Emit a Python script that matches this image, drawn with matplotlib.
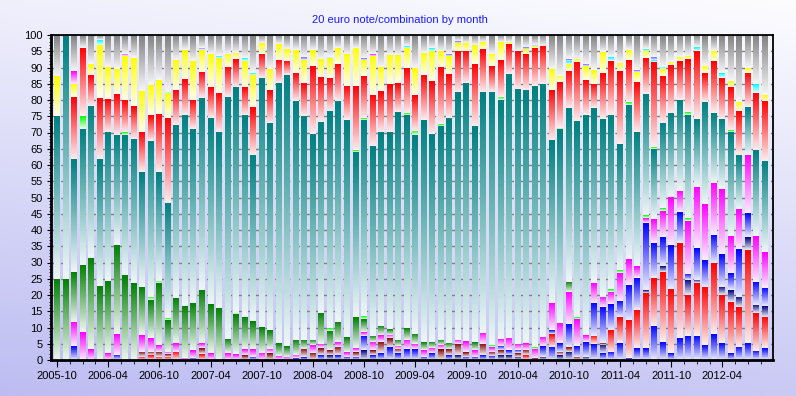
import numpy as np
import matplotlib
matplotlib.use("Agg")
import matplotlib.pyplot as plt
from matplotlib.colors import LinearSegmentedColormap, to_rgb

# one value per month, 2005-10 .. 2012-09 (percent of notes), stacked bottom -> top
tick_labels = ["2005-10", "2006-04", "2006-10", "2007-04", "2007-10", "2008-04", "2008-10",
               "2009-04", "2009-10", "2010-04", "2010-10", "2011-04", "2011-10", "2012-04"]

blue1 = [0, 0, 0, 0, 0, 0, 0, 0, 0, 0, 0, 0,
         0, 0, 0, 0, 0, 0, 0, 0, 0, 0, 0, 0,
         0, 0, 0, 0, 0, 0.8, 0, 1.5, 0, 1.5, 1, 1,
         0, 1.5, 2, 4, 2, 0, 0, 0, 0, 0, 1.5, 0,
         1, 1, 1.5, 1.3, 0, 0, 0, 0, 0, 0, 4.1, 0,
         0, 0, 0, 4.9, 2, 2.6, 5.1, 0.5, 3.6, 3.6, 10.6, 5.4,
         2.1, 6.7, 7.4, 7.4, 4.6, 8, 5.1, 2.1, 4.1, 5.1, 2.9, 3.6]
red1 = [0, 0, 0, 0, 0, 0, 0, 0, 0, 0, 1, 1.5,
        1, 1, 2.6, 0, 0, 1.8, 0, 0, 0, 0, 0, 0,
        0, 0, 0, 0, 0, 0, 0, 0, 0, 0, 0, 0,
        0, 0, 0, 0, 0, 0, 0, 0, 0, 0, 0, 0,
        0, 0, 0, 0, 0, 0, 0, 1.5, 0, 0, 3.9, 0,
        0, 0, 0, 2.5, 0, 6.6, 8, 11.8, 11.8, 17.1, 14.7, 21.8,
        19.8, 29.2, 12.5, 16.2, 18, 21.7, 14.9, 15.8, 12.3, 28.7, 11.5, 9.7]
navy = [0, 0, 0, 0, 0, 0, 0, 0, 0, 0, 0, 0,
        0, 0, 0, 0, 0, 0, 0, 0, 0, 0, 0, 0,
        0, 0, 0, 0, 0, 0, 0, 0, 1.5, 0, 0, 0,
        3, 0, 0, 0, 0, 0, 0, 0, 0, 0, 0, 1.5,
        0, 0, 0, 0, 1.5, 1.5, 1, 0, 0, 1, 0, 1.5,
        2.6, 0, 1, 0, 2.5, 0, 0, 0, 0, 0.8, 0, 1.7,
        0, 0, 4.7, 1, 0, 0, 2.6, 3.6, 3.1, 4, 2.5, 3.3]
brown = [0, 0, 0, 0, 0, 0, 0, 0, 0, 0, 1.6, 1.1,
         1.6, 0.8, 0, 0, 0, 1.8, 0, 0, 0, 0, 1.5, 0,
         0, 2, 0, 0, 0, 2.5, 2.3, 2.1, 1.5, 2.5, 0, 1.5,
         0, 1.5, 3.6, 2.7, 1.3, 0, 0, 0, 0, 3.3, 1.8, 3.4,
         1.5, 0, 3.4, 1.3, 1.5, 0, 1, 1.6, 0.5, 0, 0, 1.1,
         1.5, 1, 0, 0, 0.6, 0, 0, 0, 0, 0, 0, 0,
         0, 0, 0, 0, 0, 0, 0, 0, 0, 0, 0, 0]
blue2 = [0, 0, 4.2, 0, 0, 0, 0, 1.6, 0, 0, 0, 0,
         0, 0, 0, 0, 0.7, 0, 0, 0, 0, 0, 0, 1,
         0, 0, 0, 0, 0.5, 0, 0, 0, 0, 0, 0, 0,
         4.5, 0, 0, 0, 0, 3.3, 3.3, 1, 2, 0, 0, 0,
         0, 0, 0, 0, 1.3, 1.5, 1, 0, 0, 3.3, 1.2, 2.5,
         7, 3.3, 4.6, 10.2, 11.1, 8, 5.2, 10.8, 9.9, 20.8, 10.8, 8.8,
         13.5, 9.5, 1.9, 9.8, 8.2, 8.8, 10, 5.2, 14.7, 7.3, 7.2, 5.7]
magenta = [0, 0, 7.4, 8.5, 3.3, 0, 2, 6.3, 0, 0, 5, 4.1,
           1.9, 0.8, 2.5, 0.7, 2.3, 1.5, 2, 0, 2, 1.7, 1.8, 2.3,
           2.3, 1.3, 1.3, 1, 1, 0, 2.3, 1.3, 0, 1.5, 1.5, 1.2,
           1.2, 2.5, 2.1, 1, 1, 2.9, 1.6, 2.1, 1.6, 1.3, 0, 1.3,
           3.3, 2.1, 3.4, 1.5, 2.2, 3.8, 1.9, 2.1, 2.8, 2.9, 8.4, 6.4,
           9.9, 8.2, 2.1, 6, 3.3, 3.8, 8.6, 8, 3.6, 1.5, 7.3, 8.2,
           14.6, 6.6, 16.4, 18.9, 17.1, 16.1, 20, 11.5, 12.3, 18, 14.1, 11]
green = [25, 25, 15.6, 20.7, 28.1, 22.9, 22.2, 27.6, 26, 23.8, 15, 11.7,
         19.1, 9.6, 14.1, 16, 14.6, 16.5, 15.3, 16.1, 4.6, 12.3, 10, 8.6,
         8, 5.8, 3.8, 3.3, 4.7, 2.9, 1.6, 9.6, 5.9, 6.2, 4.6, 9.5,
         3.9, 1.9, 2.8, 1.8, 1.9, 3.6, 3.1, 2.4, 1.9, 1.6, 1.9, 0,
         0, 2.4, 0, 0, 0, 0, 0, 0, 0, 0, 0, 0,
         3.1, 0, 0, 0, 0, 0, 0, 0, 0, 0, 0, 0,
         0, 0, 0, 0, 0, 0, 0, 0, 0, 0, 0, 0]
lime_lo = [0, 0, 0, 0, 0, 0, 0, 0, 0, 0, 0, 1,
           0.8, 0.6, 0, 0, 0, 0, 0, 0, 0, 0.4, 0, 0,
           0, 0, 0, 0, 0, 0, 0, 0, 0.9, 0, 0, 0,
           0.9, 0, 0, 0, 0, 0, 0, 0, 0, 0, 0, 0,
           0, 0, 0, 0.5, 0, 0, 0, 0, 0.6, 0, 0, 0,
           0, 0.6, 0, 0, 0, 0.7, 0.8, 0, 0, 0.8, 0, 0.8,
           0, 0, 0.7, 0, 0, 0, 0, 0, 0, 0, 0, 0]
teal = [50.2, 75, 34.5, 41.8, 46.9, 38.8, 46, 33.8, 43.3, 44.3, 35.2, 48.1,
        33.4, 35.4, 53, 58.8, 53.4, 58.9, 57.2, 54.1, 74.2, 69.6, 62.2, 51.1,
        76.5, 63.9, 80.1, 83.4, 73.5, 69, 63.3, 58.7, 66.8, 68, 66.7, 50.9,
        60.3, 58.4, 59.7, 60.7, 70.1, 65.6, 61.2, 68.3, 64, 65.8, 69.3, 76.3,
        79.4, 66.5, 74.2, 77.9, 73.5, 81.2, 78.5, 77.9, 80.4, 77.7, 50.1, 59.6,
        53.4, 60.4, 67.7, 53.9, 54.7, 53.7, 38.8, 47.4, 41.3, 37.2, 21.5, 26.2,
        26, 28, 31.8, 20.9, 31.5, 21.4, 21.6, 32, 16.6, 14.7, 26.4, 27.9]
lime_hi = [0, 0, 0, 4, 0, 0, 0, 0, 0.9, 0, 0, 0,
           0, 0, 0, 0, 0, 0, 0, 0, 0, 0, 0, 0,
           0, 0, 0, 0, 0, 0, 0, 0, 0, 0, 0, 0.5,
           0.6, 0, 0, 0, 0, 0.6, 1.3, 0, 0, 0.6, 0, 0,
           0, 0, 0, 0, 1, 0, 0, 0, 0, 0, 0, 0.4,
           0, 0, 0, 0, 0, 0, 0, 0.9, 0, 0, 0.6, 0,
           0, 0, 0.9, 0, 0, 0, 0, 0.6, 0, 0, 0, 0]
red2 = [0, 0, 19.3, 21, 9.4, 19, 10, 12.4, 9.7, 9.9, 12.4, 8,
        18, 26.3, 11, 11, 9, 8.1, 9.5, 12.1, 9.4, 8.5, 8.5, 14.7,
        7.5, 10, 7.1, 4.4, 8.7, 10.1, 21.1, 14, 10.3, 11.4, 10.5, 19.7,
        13, 15.7, 12.6, 14.7, 8.9, 13.8, 11, 13.9, 16.3, 17.6, 13.5, 12.6,
        9.9, 19.1, 13.2, 8, 11.3, 9.2, 11.7, 11.1, 11.7, 11.7, 15.4, 14,
        11.4, 18.2, 10.8, 7.4, 14.1, 16.6, 22.4, 12.9, 15.3, 11.1, 26.2, 14.5,
        14.8, 12, 16.3, 20.9, 8.9, 16, 12.6, 13.2, 13.5, 10.5, 17.6, 18.5]
yellow = [12.3, 0, 4, 0, 3.3, 16.3, 10, 7.8, 13.6, 15, 12.5, 9,
          10.2, 7.5, 9, 8.8, 12, 6.7, 10.3, 10.5, 4.1, 2.1, 8, 10.1,
          3.1, 6.5, 4.8, 3.6, 7, 7.1, 4.8, 5.5, 5.9, 4.9, 9.9, 11.7,
          5, 12.1, 7.4, 8.9, 8.6, 6.2, 8.3, 6.8, 9.3, 4.9, 5.5, 2.4,
          2.4, 5.8, 2.1, 3.7, 5.5, 0.6, 0, 1.5, 0.6, 0, 6.4, 1.9,
          2.2, 0.9, 4.3, 4.3, 6.5, 0, 2.5, 3.1, 3.1, 2.2, 0, 2.1,
          0.9, 1.2, 0.9, 0, 2.2, 3.1, 0, 1.8, 2.8, 1.5, 0, 1.8]
cyan = [0, 0, 0, 0, 0, 1.5, 0, 0, 0, 0, 0, 0,
        0, 0.6, 0, 0, 0, 0, 0, 0.6, 0, 0, 0.8, 0.6,
        0, 0, 0, 0, 0, 0, 0, 0, 0.4, 0, 0, 0,
        0, 0, 0, 0, 0, 0.5, 0, 0, 0.8, 0, 0, 0,
        0, 0, 0, 0, 0, 0, 0, 0, 0, 0, 0, 0,
        0.9, 0, 0, 0, 0, 1.1, 0, 0, 0, 0.6, 0.6, 0.7,
        0, 0, 0, 1.2, 0, 0, 1.5, 0, 0, 0, 2.7, 0]
blue_top = [0, 0, 0, 0, 0, 0, 0, 0, 0, 0, 0, 0,
            0, 0, 0, 0, 0, 0.7, 0, 0, 0, 0, 0, 0,
            0, 0, 0, 0, 0, 0.7, 0, 0, 0, 0, 0, 0,
            0.4, 0, 0, 0, 0, 0, 0, 0, 0, 0, 0.5, 0.5,
            0, 0, 0, 0, 0, 0, 0, 0.6, 0.4, 0, 0, 0,
            0.6, 0, 0.6, 0, 0, 0, 0, 0, 0.6, 0, 0.9, 0,
            0, 0, 0, 0, 0, 0, 0, 0, 0, 0, 0, 0]
pink_top = [0, 0, 4, 0, 0, 0, 0, 0, 0.8, 0, 0, 0,
            0, 0, 0, 0, 0, 0, 0, 0, 0, 0, 0, 0,
            0, 0, 0, 0, 0, 0, 0, 0, 0, 0, 0, 0,
            0, 0.6, 0, 0, 0, 0, 0, 0, 0, 0, 0, 0,
            0, 0, 0, 0, 0, 0, 0, 0, 0, 0, 0, 0,
            0, 0, 0, 0, 0, 0, 0, 0, 0, 0, 0, 0,
            0, 0, 0, 0, 0, 0, 0, 0, 0, 0, 0, 0]

layers = [(blue1, "#0000ff"), (red1, "#ff0000"), (navy, "#000080"), (brown, "#800000"),
          (blue2, "#0000ff"), (magenta, "#ff00ff"), (green, "#008000"), (lime_lo, "#00ff00"),
          (teal, "#008080"), (lime_hi, "#00ff00"), (red2, "#ff0000"), (yellow, "#ffff00"),
          (cyan, "#00ffff"), (blue_top, "#6666ff"), (pink_top, "#ff00ff")]
rest = 100 - np.sum([np.array(v, float) for v, c in layers], axis=0)
layers.append((np.clip(rest, 0, None), "#808080"))

plt.rcParams['font.family'] = ['Liberation Sans', 'DejaVu Sans']

fig = plt.figure(figsize=(7.96, 3.96), dpi=100)

# background: white at top fading to lavender at the bottom
bg = fig.add_axes([0, 0, 1, 1])
yy, xx = np.mgrid[0:1:200j, 0:1:200j]
t = np.clip(0.8 * yy + 0.2 * (1 - xx), 0, 1)[..., None]
img = np.array([0.99, 0.99, 1.0]) * (1 - t) + np.array([0.74, 0.74, 0.95]) * t
bg.imshow(img, aspect='auto', extent=(0, 1, 0, 1), origin='upper')
bg.axis('off')
bg.set_zorder(0)

ax = fig.add_axes([51 / 796, 36 / 396, 722 / 796, 325 / 396])
ax.set_zorder(1)
ax.patch.set_alpha(0)

grad = np.linspace(0, 1, 64).reshape(-1, 1)
x = np.arange(len(teal))
bottom = np.zeros(len(x))
for vals, color in layers:
    vals = np.asarray(vals, float)
    bars = ax.bar(x, vals, bottom=bottom, width=0.7, color='none', edgecolor='none', zorder=2)
    base = np.array(to_rgb(color))
    cmap = LinearSegmentedColormap.from_list("g", [0.93 + 0.07 * base, base])
    for rect in bars:
        h = rect.get_height()
        if h <= 0:
            continue
        x0, y0 = rect.get_x(), rect.get_y()
        ax.imshow(grad, cmap=cmap, extent=(x0, x0 + rect.get_width(), y0, y0 + h),
                  origin='lower', aspect='auto', interpolation='bilinear', zorder=2)
    bottom += vals

ax.set_xlim(-0.7, 83.94)
ax.set_ylim(0, 100)
ax.set_yticks(np.arange(0, 101, 5))
ax.set_yticks(np.arange(0, 101, 1), minor=True)
ax.set_xticks(np.arange(0, 84, 6))
ax.set_xticklabels(tick_labels)
ax.set_xticks(np.arange(0, 84, 1.5), minor=True)
ax.tick_params(axis='both', labelsize=8, colors='black', direction='out')
ax.tick_params(axis='y', which='major', length=3, pad=3)
ax.tick_params(axis='y', which='minor', length=1.5)
ax.tick_params(axis='x', which='major', length=5, pad=3)
ax.tick_params(axis='x', which='minor', length=3)

ax.yaxis.grid(True, color="#808080", linestyle=(0, (4, 3)), linewidth=1)
ax.set_axisbelow(True)

for side in ['left', 'bottom']:
    ax.spines[side].set_linewidth(2)
for side in ['top', 'right']:
    ax.spines[side].set_linewidth(1.3)

fig.text(0.502, 1 - 20 / 396, "20 euro note/combination by month", color="#1a1aff",
         fontsize=8, ha='center', va='center')

fig.savefig("out.png", dpi=100)
